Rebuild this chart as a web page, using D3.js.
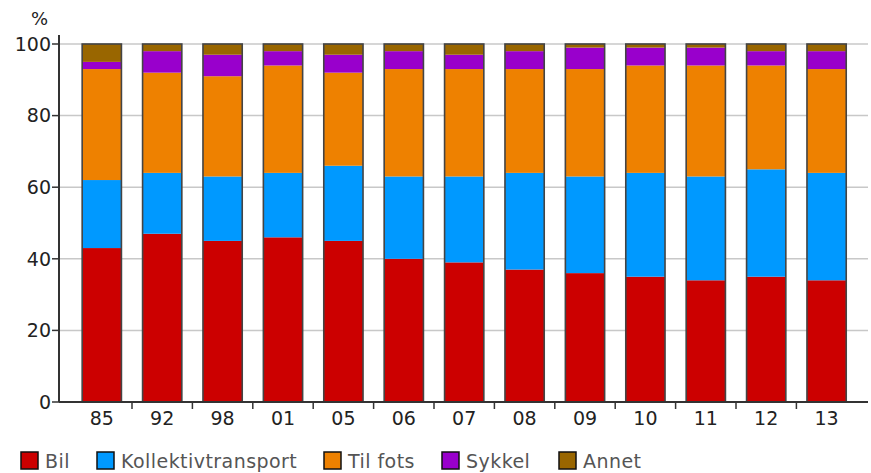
<!DOCTYPE html>
<html lang="no">
<head>
    <meta charset="UTF-8">
    <title>Reisemiddelfordeling</title>
    <script src="https://d3js.org/d3.v7.min.js"></script>
    <style>
        body { margin: 0; background: #fff; }
        text { font-family: "DejaVu Sans", Verdana, sans-serif; }
        .tick-label { font-size: 19px; fill: #222; }
        .legend-label { font-size: 19px; fill: #555; letter-spacing: 0.45px; }
    </style>
</head>
<body>
    <svg width="871" height="473"></svg>

    <script>
        // år (kategorier)
        const years = ["85", "92", "98", "01", "05", "06", "07", "08", "09", "10", "11", "12", "13"];
        const seriesNames = ["Bil", "Kollektivtransport", "Til fots", "Sykkel", "Annet"];
        const colors = ["#cc0000", "#0099ff", "#ee8100", "#9900cc", "#996600"];

        // andel i prosent, lest av bildet
        const bil        = [43, 47, 45, 46, 45, 40, 39, 37, 36, 35, 34, 35, 34];
        const kollektiv  = [19, 17, 18, 18, 21, 23, 24, 27, 27, 29, 29, 30, 30];
        const tilFots    = [31, 28, 28, 30, 26, 30, 30, 29, 30, 30, 31, 29, 29];
        const sykkel     = [ 2,  6,  6,  4,  5,  5,  4,  5,  6,  5,  5,  4,  5];
        const annet      = [ 5,  2,  3,  2,  3,  2,  3,  2,  1,  1,  1,  2,  2];
        const yTicks = [0, 20, 40, 60, 80, 100];

        const table = years.map((yr, i) => ({
            year: yr,
            "Bil": bil[i],
            "Kollektivtransport": kollektiv[i],
            "Til fots": tilFots[i],
            "Sykkel": sykkel[i],
            "Annet": annet[i]
        }));

        const svg = d3.select("svg");
        const axisX = 59, plotRight = 868;

        const x = d3.scaleBand()
            .domain(years)
            .range([71.6, 856.8])
            .paddingInner(0.35)
            .paddingOuter(0.175);

        const y = d3.scaleLinear()
            .domain([0, 100])
            .range([402, 44]);

        const stack = d3.stack().keys(seriesNames);
        const stacked = stack(table);

        // rutenett
        svg.append("g")
            .selectAll("line")
            .data(yTicks.filter(d => d > 0))
          .enter().append("line")
            .attr("x1", axisX)
            .attr("x2", plotRight)
            .attr("y1", d => y(d))
            .attr("y2", d => y(d))
            .attr("stroke", "#c8c8c8")
            .attr("stroke-width", 1.5);

        // stablede søyler
        svg.append("g")
            .selectAll("g")
            .data(stacked)
          .enter().append("g")
            .attr("fill", (d, i) => colors[i])
          .selectAll("rect")
            .data(d => d)
          .enter().append("rect")
            .attr("x", d => x(d.data.year))
            .attr("y", d => y(d[1]))
            .attr("width", x.bandwidth())
            .attr("height", d => y(d[0]) - y(d[1]));

        // ramme rundt hver søyle
        svg.append("g")
            .selectAll("rect")
            .data(table)
          .enter().append("rect")
            .attr("x", d => x(d.year))
            .attr("y", d => y(d3.sum(seriesNames, k => d[k])))
            .attr("width", x.bandwidth())
            .attr("height", d => y(0) - y(d3.sum(seriesNames, k => d[k])))
            .attr("fill", "none")
            .attr("stroke", "#444")
            .attr("stroke-width", 1.6);

        // y-akse
        const yAxis = svg.append("g");
        yAxis.append("line")
            .attr("x1", axisX).attr("x2", axisX)
            .attr("y1", 35).attr("y2", y(0))
            .attr("stroke", "#333").attr("stroke-width", 2);
        yAxis.selectAll(".yt")
            .data(yTicks)
          .enter().append("line")
            .attr("x1", axisX - 7).attr("x2", axisX)
            .attr("y1", d => y(d)).attr("y2", d => y(d))
            .attr("stroke", "#333").attr("stroke-width", 1.5);
        yAxis.selectAll("text")
            .data(yTicks)
          .enter().append("text")
            .attr("class", "tick-label")
            .attr("x", axisX - 8)
            .attr("y", d => y(d))
            .attr("dy", "0.36em")
            .attr("text-anchor", "end")
            .text(d => d);

        svg.append("text")
            .attr("x", 31)
            .attr("y", 25)
            .style("font-size", "18px")
            .style("fill", "#222")
            .text("%");

        // x-akse
        const xAxis = svg.append("g");
        xAxis.append("line")
            .attr("x1", axisX).attr("x2", plotRight)
            .attr("y1", y(0)).attr("y2", y(0))
            .attr("stroke", "#333").attr("stroke-width", 2);
        xAxis.selectAll(".xt")
            .data(years.slice(1))
          .enter().append("line")
            .attr("x1", d => x(d) - x.step() * x.paddingInner() / 2)
            .attr("x2", d => x(d) - x.step() * x.paddingInner() / 2)
            .attr("y1", y(0)).attr("y2", y(0) + 7)
            .attr("stroke", "#333").attr("stroke-width", 1.5);
        xAxis.selectAll("text")
            .data(years)
          .enter().append("text")
            .attr("class", "tick-label")
            .attr("x", d => x(d) + x.bandwidth() / 2)
            .attr("y", 425)
            .attr("text-anchor", "middle")
            .text(d => d);

        // tegnforklaring
        const legendX = [21, 97, 324, 442, 559];
        const legend = svg.append("g")
            .selectAll("g")
            .data(seriesNames)
          .enter().append("g")
            .attr("transform", (d, i) => "translate(" + legendX[i] + ",452)");
        legend.append("rect")
            .attr("width", 17).attr("height", 17)
            .attr("fill", (d, i) => colors[i])
            .attr("stroke", "#111").attr("stroke-width", 1.5);
        legend.append("text")
            .attr("class", "legend-label")
            .attr("x", 24)
            .attr("y", 16)
            .text(d => d);
    </script>
</body>
</html>
